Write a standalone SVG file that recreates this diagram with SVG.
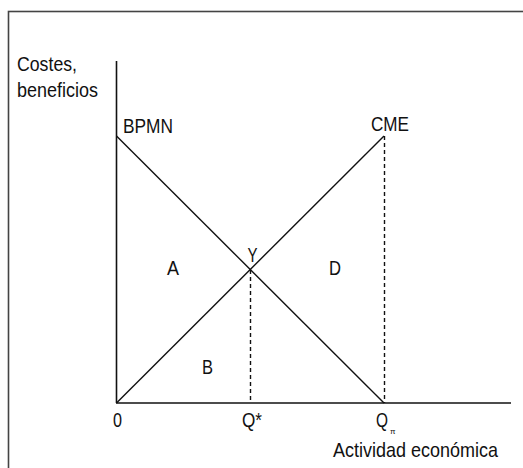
<svg xmlns="http://www.w3.org/2000/svg" width="523" height="468" viewBox="0 0 523 468">
<style>
text{font-family:"Liberation Sans Narrow","Arial Narrow","Liberation Sans",Arial,sans-serif;font-size:21px;fill:#111}
.ax{stroke:#111;stroke-width:1.6;fill:none}
.ln{stroke:#111;stroke-width:1.4;fill:none}
.dash{stroke:#111;stroke-width:1.4;stroke-dasharray:4,3;fill:none}
</style>
<rect x="0" y="0" width="523" height="468" fill="#fff"/>
<rect x="8.5" y="11.5" width="600" height="600" fill="none" stroke="#444" stroke-width="1.6"/>
<g id="axes">
<line class="ax" x1="116.5" y1="61" x2="116.5" y2="403"/>
<line class="ax" x1="116" y1="403" x2="511" y2="403"/>
</g>
<g id="connectors">
<line id="bpmn-line" class="ln" x1="116.5" y1="136" x2="384" y2="403"/>
<line id="cme-line" class="ln" x1="116.5" y1="403" x2="384" y2="136"/>
<line class="dash" x1="250.5" y1="270" x2="250.5" y2="403"/>
<line class="dash" x1="384.5" y1="136" x2="384.5" y2="403"/>
</g>
<g id="labels">
<text x="17" y="71" textLength="60" lengthAdjust="spacingAndGlyphs">Costes,</text>
<text x="17" y="97" textLength="81" lengthAdjust="spacingAndGlyphs">beneficios</text>
<g id="BPMN"><text x="123" y="133" textLength="50" lengthAdjust="spacingAndGlyphs">BPMN</text></g>
<g id="CME"><text x="371" y="131" textLength="38" lengthAdjust="spacingAndGlyphs">CME</text></g>
<g id="Y"><text x="252.5" y="262" text-anchor="middle" textLength="10" lengthAdjust="spacingAndGlyphs">Y</text></g>
<g id="A"><text x="167" y="275" textLength="12" lengthAdjust="spacingAndGlyphs">A</text></g>
<g id="D"><text x="329" y="275" textLength="12" lengthAdjust="spacingAndGlyphs">D</text></g>
<g id="B"><text x="202" y="374" textLength="11" lengthAdjust="spacingAndGlyphs">B</text></g>
<text x="113" y="427" textLength="9" lengthAdjust="spacingAndGlyphs">0</text>
<text x="242" y="427" textLength="20" lengthAdjust="spacingAndGlyphs">Q*</text>
<text x="376" y="427" textLength="12" lengthAdjust="spacingAndGlyphs">Q</text>
<text x="390" y="434" style="font-size:8px">π</text>
<text x="333" y="457" textLength="165" lengthAdjust="spacingAndGlyphs">Actividad económica</text>
</g>
</svg>
